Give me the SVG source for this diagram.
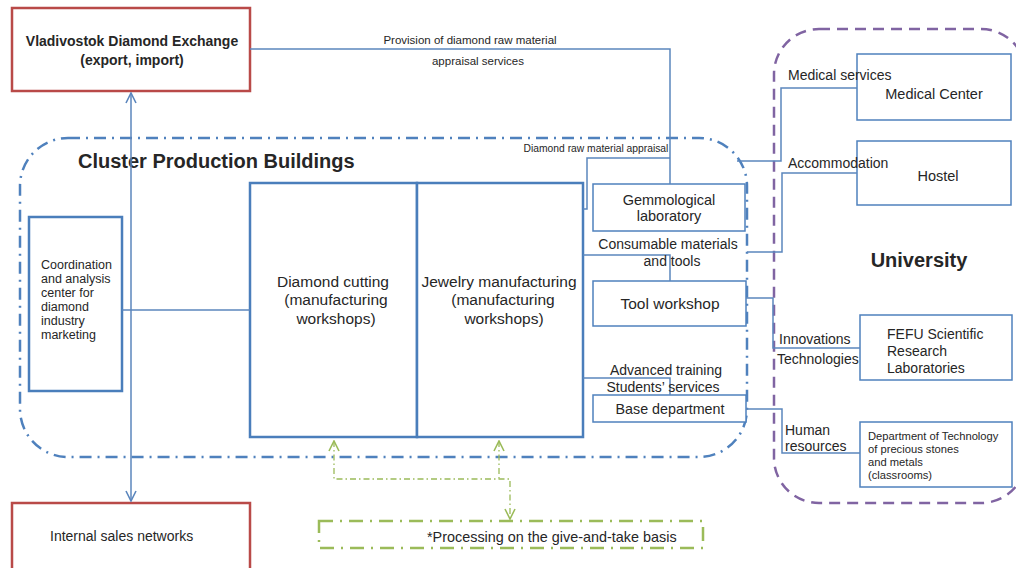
<svg xmlns="http://www.w3.org/2000/svg" width="1016" height="568" viewBox="0 0 1016 568">
<defs>
<marker id="ab" viewBox="0 0 12 12" refX="11" refY="6" markerWidth="12" markerHeight="12" markerUnits="userSpaceOnUse" orient="auto-start-reverse">
<path d="M1,1 L11,6 L1,11" fill="none" stroke="#5b86bd" stroke-width="1.6"/>
</marker>
<marker id="ag" viewBox="0 0 12 12" refX="11" refY="6" markerWidth="12" markerHeight="12" markerUnits="userSpaceOnUse" orient="auto-start-reverse">
<path d="M1,1 L11,6 L1,11" fill="none" stroke="#9bbb59" stroke-width="1.6"/>
</marker>
</defs>
<style>
text{font-family:"Liberation Sans",Arial,sans-serif;fill:#262626}
.red{fill:#fff;stroke:#b94a48;stroke-width:2.5}
.box{fill:#fff;stroke:#4f81bd;stroke-width:1.5}
.bold{fill:#fff;stroke:#4a7ebb;stroke-width:2.5}
.con{fill:none;stroke:#5b86bd;stroke-width:1.5}
.cluster{fill:none;stroke:#4f81bd;stroke-width:2.5;stroke-dasharray:12 6 2 6}
.univ{fill:none;stroke:#8064a2;stroke-width:2.5;stroke-dasharray:11 7}
.green{fill:none;stroke:#9bbb59;stroke-width:2.5;stroke-dasharray:14 7 2 7}
.gcon{fill:none;stroke:#9bbb59;stroke-width:1.3;stroke-dasharray:6 3 1.5 3}
.s12{font-size:12.5px}
.s14{font-size:14px}
.s15{font-size:15.5px}
</style>
<rect x="0" y="0" width="1016" height="568" fill="#fff"/>

<g id="cluster">
<rect class="cluster" x="20" y="138" width="727" height="319" rx="48" ry="48"/>
<text x="78" y="168" style="font-size:20px;font-weight:bold" fill="#111">Cluster Production Buildings</text>
</g>
<g id="university">
<rect class="univ" x="774" y="29" width="252" height="474" rx="45" ry="45"/>
<text x="919" y="267" text-anchor="middle" style="font-size:20px;font-weight:bold" fill="#111">University</text>
</g>

<g id="vladivostok">
<rect class="red" x="12" y="8" width="238" height="83"/>
<text x="132" y="46" text-anchor="middle" style="font-size:14px;font-weight:bold">Vladivostok Diamond Exchange</text>
<text x="132" y="65" text-anchor="middle" style="font-size:14px;font-weight:bold">(export, import)</text>
</g>
<g id="internal-sales">
<rect class="red" x="12" y="503" width="238" height="80"/>
<text x="50" y="541" class="s14">Internal sales networks</text>
</g>
<g id="coordination">
<rect class="bold" x="29" y="217" width="93" height="174"/>
<text x="41" y="269" class="s12">Coordination</text>
<text x="41" y="283" class="s12">and analysis</text>
<text x="41" y="297" class="s12">center for</text>
<text x="41" y="311" class="s12">diamond</text>
<text x="41" y="325" class="s12">industry</text>
<text x="41" y="339" class="s12">marketing</text>
</g>
<g id="diamond-cutting">
<rect class="bold" x="250" y="183" width="167" height="254"/>
<text x="333" y="287" text-anchor="middle" class="s15">Diamond cutting</text>
<text x="336" y="305" text-anchor="middle" class="s15">(manufacturing</text>
<text x="336" y="324" text-anchor="middle" class="s15">workshops)</text>
</g>
<g id="jewelry">
<rect class="bold" x="417" y="183" width="166" height="254"/>
<text x="499" y="287" text-anchor="middle" class="s15">Jewelry manufacturing</text>
<text x="503" y="305" text-anchor="middle" class="s15">(manufacturing</text>
<text x="504" y="324" text-anchor="middle" class="s15">workshops)</text>
</g>
<g id="gemmological">
<rect class="box" x="593" y="184" width="152" height="47"/>
<text x="669" y="205" text-anchor="middle" style="font-size:14.5px">Gemmological</text>
<text x="669" y="221" text-anchor="middle" style="font-size:14.5px">laboratory</text>
</g>
<g id="tool-workshop">
<rect class="box" x="593" y="281" width="153" height="45"/>
<text x="670" y="309" text-anchor="middle" class="s15">Tool workshop</text>
</g>
<g id="base-department">
<rect class="box" x="593" y="395" width="153" height="27"/>
<text x="670" y="414" text-anchor="middle" style="font-size:14.3px">Base department</text>
</g>
<g id="medical-center">
<rect class="box" x="857" y="54" width="154" height="66"/>
<text x="934" y="99" text-anchor="middle" style="font-size:14.5px">Medical Center</text>
</g>
<g id="hostel">
<rect class="box" x="857" y="141" width="154" height="64"/>
<text x="938" y="181" text-anchor="middle" style="font-size:14.5px">Hostel</text>
</g>
<g id="fefu">
<rect class="box" x="860" y="315" width="152" height="65"/>
<text x="887" y="339" class="s14">FEFU Scientific</text>
<text x="887" y="356" class="s14">Research</text>
<text x="887" y="373" class="s14">Laboratories</text>
</g>
<g id="dept-technology">
<rect class="box" x="860" y="422" width="152" height="65"/>
<text x="868" y="440" style="font-size:11.2px">Department of Technology</text>
<text x="868" y="453" style="font-size:11.2px">of precious stones</text>
<text x="868" y="466" style="font-size:11.2px">and metals</text>
<text x="868" y="479" style="font-size:11.2px">(classrooms)</text>
</g>
<g id="give-and-take">
<rect class="green" x="319" y="521" width="384" height="27"/>
<text x="427" y="542" style="font-size:14.4px">*Processing on the give-and-take basis</text>
</g>

<g id="connectors">
<path class="con" d="M250,49 H670 V184"/>
<path class="con" d="M583,209 H587 V158 H670"/>
<line class="con" x1="131" y1="93" x2="131" y2="501" stroke-width="1.8" marker-start="url(#ab)" marker-end="url(#ab)"/>
<path class="con" d="M122,310 H250"/>
<path class="con" d="M583,255 H670 V281"/>
<path class="con" d="M583,378 H670 V395"/>
<path class="con" d="M737,161 H781 V88 H857"/>
<path class="con" d="M747,252 H782 V173 H857"/>
<path class="con" d="M746,298 H773 V348 H860"/>
<path class="con" d="M746,409 H782 V453 H860"/>
<path class="gcon" d="M334,441 V479 H510 V519" marker-start="url(#ag)" marker-end="url(#ag)"/>
<path class="gcon" d="M499,441 V479" marker-start="url(#ag)"/>
<text x="470" y="44" text-anchor="middle" style="font-size:11.5px">Provision of diamond raw material</text>
<text x="478" y="65" text-anchor="middle" style="font-size:11.5px">appraisal services</text>
<text x="596" y="152" text-anchor="middle" style="font-size:10.3px">Diamond raw material appraisal</text>
<text x="668" y="249" text-anchor="middle" class="s14">Consumable materials</text>
<text x="672" y="266" text-anchor="middle" class="s14">and tools</text>
<text x="666" y="375" text-anchor="middle" class="s14">Advanced training</text>
<text x="663" y="392" text-anchor="middle" class="s14">Students’ services</text>
<text x="788" y="80" class="s14">Medical services</text>
<text x="788" y="168" class="s14">Accommodation</text>
<text x="779" y="344" class="s14">Innovations</text>
<text x="777" y="364" class="s14">Technologies</text>
<text x="785" y="435" class="s14">Human</text>
<text x="785" y="451" class="s14">resources</text>
</g>
</svg>
